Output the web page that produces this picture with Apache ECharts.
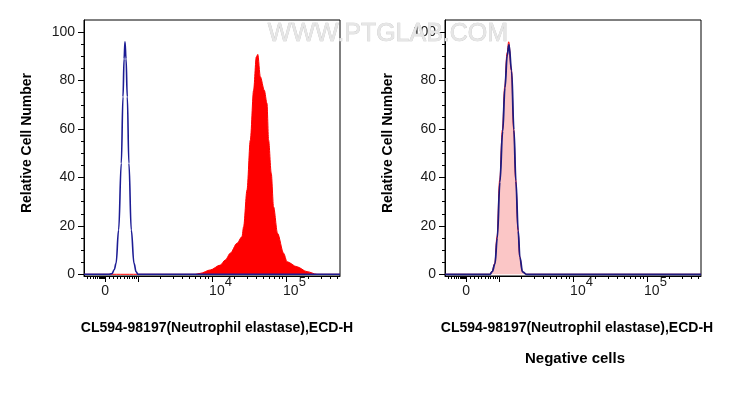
<!DOCTYPE html>
<html>
<head>
<meta charset="utf-8">
<style>
  html, body { margin: 0; padding: 0; background: #fff; }
  #chart { width: 731px; height: 397px; }
</style>
<script src="https://cdn.jsdelivr.net/npm/echarts@6/dist/echarts.min.js"></script>
</head>
<body>
<div id="chart"></div>
<script>
// x is in logicle display units: 10^3 -> 3, 10^4 -> 4, 10^5 -> 5, zero sits at 2.555
const xMin = 2.27
const xMax = 5.73
const zeroPos = 2.555

// left panel: stained cells (red) and isotype control (blue)
const stainX = [2.27, 3.70, 3.774, 3.842, 3.977, 4.112, 4.180, 4.247, 4.338, 4.405, 4.427, 4.473, 4.518, 4.562, 4.599, 4.619, 4.653, 4.707, 4.743, 4.765, 4.801, 4.832, 4.886, 4.968, 5.014, 5.149, 5.284, 5.419, 5.73]
const stainY = [0, 0, 0, 0.4, 1.8, 3.8, 5.9, 8.7, 12.8, 15.5, 19.6, 34.8, 55.4, 76, 89.8, 90.8, 81.6, 76, 70.6, 55.4, 41.7, 27.9, 16.9, 8.7, 5.2, 3.1, 1.1, 0, 0]
const isoX = [2.27, 2.60, 2.649, 2.680, 2.703, 2.738, 2.774, 2.797, 2.812, 2.824, 2.838, 2.855, 2.877, 2.909, 2.946, 2.975, 3.000, 5.73]
const isoY = [0, 0, 0.3, 2, 4.5, 18.3, 45.8, 73.3, 89, 96, 89, 73.3, 45.8, 18.3, 4.5, 1, 0, 0]

// right panel: negative cells (pink fill) and control (navy)
const negX = [2.27, 2.85, 2.874, 2.905, 2.942, 2.973, 3.009, 3.046, 3.077, 3.108, 3.131, 3.168, 3.199, 3.226, 3.257, 3.280, 3.316, 3.370, 5.73]
const negY = [0, 0, 0, 1.2, 4.5, 15.5, 38.9, 59.6, 77.4, 91.2, 96, 84.3, 59.6, 38.9, 18.3, 7.3, 1.1, 0, 0]
const ctrlX = [2.27, 2.85, 2.878, 2.908, 2.945, 2.976, 3.012, 3.049, 3.080, 3.111, 3.134, 3.170, 3.201, 3.228, 3.259, 3.282, 3.318, 3.372, 5.73]
const ctrlY = [0, 0, 0, 1.1, 4.3, 15, 38, 59, 77, 90.5, 94.8, 84, 59.6, 38.5, 18, 7, 1, 0, 0]

const yLabels = [0, 20, 40, 60, 80, 100]
const yMinorTicks = [5, 10, 15, 25, 30, 35, 45, 50, 55, 65, 70, 75, 85, 90, 95]
const xLabelValues = [zeroPos, 4, 5]
const xMajorTicks = [zeroPos, 3, 4, 5]
const xLinearTicks = [2.312, 2.352, 2.393, 2.427, 2.454, 2.474, 2.487, 2.501, 2.514, 2.528, 2.5415,
  2.609, 2.663, 2.717, 2.764, 2.812, 2.852, 2.886, 2.920, 2.947, 2.974]

let xMinorTicks = xLinearTicks.slice()
for (let d = 3; d <= 5; d++) {
  for (let m = 2; m <= 9; m++) {
    let v = d + Math.log10(m)
    if (v < xMax) xMinorTicks.push(v)
  }
}

const font = '"Liberation Sans", Arial, sans-serif'
const pairs = (xs, ys) => xs.map((x, i) => [x, ys[i]])

function xAxes(gridIndex) {
  return [
    {
      gridIndex: gridIndex,
      type: 'value',
      position: 'bottom',
      min: xMin,
      max: xMax,
      axisLine: { show: true, onZero: false, lineStyle: { color: '#000', width: 1 } },
      axisTick: { show: true, inside: false, length: 6, customValues: xMajorTicks, lineStyle: { color: '#000', width: 1 } },
      splitLine: { show: false },
      axisLabel: {
        show: true,
        margin: 4,
        customValues: xLabelValues,
        formatter: function (v) {
          if (Math.abs(v - zeroPos) < 1e-6) return '{z|0}'
          return '{sp| }{n|10}{s|' + Math.round(v) + '}'
        },
        rich: {
          z: { fontSize: 14, lineHeight: 14, padding: [9, 0, 0, 0], color: '#1a1a1a', fontFamily: font },
          sp: { width: 17, fontSize: 14, lineHeight: 14, padding: [9, 0, 0, 0] },
          n: { fontSize: 14, lineHeight: 14, padding: [9, 0, 0, 0], color: '#1a1a1a', fontFamily: font },
          s: { fontSize: 13, lineHeight: 13, padding: [0, 0, 10, 0], color: '#1a1a1a', fontFamily: font }
        }
      }
    },
    {
      gridIndex: gridIndex,
      type: 'value',
      position: 'bottom',
      min: xMin,
      max: xMax,
      axisLine: { show: false, onZero: false },
      axisTick: { show: true, inside: false, length: 3, customValues: xMinorTicks, lineStyle: { color: '#000', width: 1 } },
      splitLine: { show: false },
      axisLabel: { show: false }
    }
  ]
}

function yAxes(gridIndex) {
  return [
    {
      gridIndex: gridIndex,
      type: 'value',
      position: 'left',
      min: -0.7,
      max: 105,
      axisLine: { show: true, onZero: false, lineStyle: { color: '#000', width: 1 } },
      axisTick: { show: true, inside: false, length: 6, customValues: yLabels, lineStyle: { color: '#000', width: 1 } },
      splitLine: { show: false },
      axisLabel: { show: true, margin: 9, customValues: yLabels, fontSize: 14, color: '#1a1a1a', fontFamily: font }
    },
    {
      gridIndex: gridIndex,
      type: 'value',
      position: 'left',
      min: -0.7,
      max: 105,
      axisLine: { show: false, onZero: false },
      axisTick: { show: true, inside: false, length: 3, customValues: yMinorTicks, lineStyle: { color: '#000', width: 1 } },
      splitLine: { show: false },
      axisLabel: { show: false }
    }
  ]
}

function titleText(x, y, text, size, rotate) {
  return {
    type: 'text',
    x: x,
    y: y,
    rotation: rotate ? Math.PI / 2 : 0,
    z: 10,
    style: {
      text: text,
      font: 'bold ' + size + 'px ' + font,
      fill: '#000',
      textAlign: 'center',
      textVerticalAlign: 'middle',
      verticalAlign: 'middle'
    }
  }
}

let chart = echarts.init(document.getElementById('chart'), null, { renderer: 'canvas' })

chart.setOption({
  animation: false,
  backgroundColor: '#fff',
  grid: [
    { left: 84, top: 20, width: 256, height: 256, show: true, borderColor: '#000', borderWidth: 1 },
    { left: 445, top: 20, width: 256, height: 256, show: true, borderColor: '#000', borderWidth: 1 }
  ],
  xAxis: xAxes(0).concat(xAxes(1)),
  yAxis: yAxes(0).concat(yAxes(1)),
  series: [
    {
      name: 'stained',
      type: 'line',
      xAxisIndex: 0,
      yAxisIndex: 0,
      data: pairs(stainX, stainY),
      showSymbol: false,
      smooth: 0.3,
      smoothMonotone: 'x',
      lineStyle: { color: '#ff0000', width: 1 },
      areaStyle: { color: '#ff0000', opacity: 1 }
    },
    {
      name: 'isotype',
      type: 'line',
      xAxisIndex: 0,
      yAxisIndex: 0,
      data: pairs(isoX, isoY),
      showSymbol: false,
      smooth: 0.4,
      smoothMonotone: 'x',
      lineStyle: { color: '#1c1c94', width: 1.6 }
    },
    {
      name: 'negative',
      type: 'line',
      xAxisIndex: 2,
      yAxisIndex: 2,
      data: pairs(negX, negY),
      showSymbol: false,
      smooth: 0.4,
      smoothMonotone: 'x',
      lineStyle: { color: '#ff0000', width: 1 },
      areaStyle: { color: '#fbc6c6', opacity: 1 }
    },
    {
      name: 'control',
      type: 'line',
      xAxisIndex: 2,
      yAxisIndex: 2,
      data: pairs(ctrlX, ctrlY),
      showSymbol: false,
      smooth: 0.4,
      smoothMonotone: 'x',
      lineStyle: { color: '#1c1a80', width: 1.8 }
    }
  ],
  graphic: [
    titleText(27, 143, 'Relative Cell Number', 14, true),
    titleText(388, 143, 'Relative Cell Number', 14, true),
    titleText(217, 328, 'CL594-98197(Neutrophil elastase),ECD-H', 14, false),
    titleText(577, 328, 'CL594-98197(Neutrophil elastase),ECD-H', 14, false),
    titleText(575, 359, 'Negative cells', 15, false),
    {
      type: 'text',
      x: 388,
      y: 34,
      z: 20,
      style: {
        text: 'WWW.PTGLAB.COM',
        font: '25px ' + font,
        fill: '#e6e6e6',
        stroke: '#c4c4c4',
        lineWidth: 0.6,
        textAlign: 'center',
        textVerticalAlign: 'middle',
        verticalAlign: 'middle'
      }
    }
  ]
})
</script>
</body>
</html>
